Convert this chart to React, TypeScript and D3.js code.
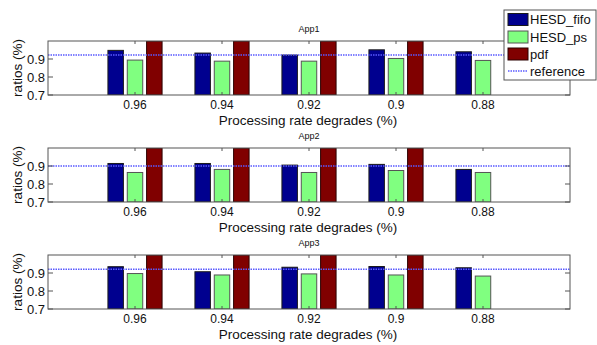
import React from "react";
import * as d3 from "d3";

const categories = ["0.96", "0.94", "0.92", "0.9", "0.88"];
const seriesNames = ["HESD_fifo", "HESD_ps", "pdf"];
const titles = ["App1", "App2", "App3"];
const app1Fifo = [0.948, 0.933, 0.922, 0.951, 0.94];
const app1Ps = [0.894, 0.888, 0.888, 0.903, 0.892];
const app1Pdf = [1.0, 1.0, 1.0, 1.0, null];
const app2Fifo = [0.914, 0.914, 0.905, 0.909, 0.881];
const app2Ps = [0.864, 0.881, 0.864, 0.875, 0.864];
const app2Pdf = [1.0, 1.0, 1.0, 1.0, null];
const app3Fifo = [0.935, 0.907, 0.932, 0.936, 0.929];
const app3Ps = [0.897, 0.889, 0.895, 0.889, 0.883];
const app3Pdf = [1.0, 1.0, 1.0, 1.0, null];
const referenceValues = [0.922, 0.9, 0.921];
const yTicks = [0.7, 0.8, 0.9];

const colors = ["#00008F", "#80FF80", "#800000"];
const edgeColors = ["#1a1a1a", "#555555", "#2a0000"];
const refColor = "#5a5aff";
const axisColor = "#555555";
const font = "'Liberation Sans', Arial, Helvetica, sans-serif";

const data = [
  [app1Fifo, app1Ps, app1Pdf],
  [app2Fifo, app2Ps, app2Pdf],
  [app3Fifo, app3Ps, app3Pdf],
];

const W = 597;
const H = 345;
const left = 48;
const right = 570;
const tops = [41, 148, 255];
const ph = 54;

function Panel({ idx }: { idx: number }) {
  const top = tops[idx];
  const bottom = top + ph;
  const x = d3.scaleLinear().domain([0, 6]).range([left, right]);
  const y = d3.scaleLinear().domain([0.7, 1.0]).range([bottom, top]);
  const groupW = 3 / 4.5;
  const step = groupW / 3;
  const bw = step * 0.8;
  const clipId = `clip${idx}`;
  const series = data[idx];
  return (
    <g>
      <defs>
        <clipPath id={clipId}>
          <rect x={left} y={top} width={right - left} height={ph} />
        </clipPath>
      </defs>
      <rect x={left} y={top} width={right - left} height={ph} fill="#fff" />
      <g clipPath={`url(#${clipId})`}>
        {series.map((vals, s) =>
          vals.map((v, i) => {
            if (v === null) return null;
            const cx = i + 1 + (s - 1) * step;
            const x0 = x(cx - bw / 2);
            const x1 = x(cx + bw / 2);
            const yv = y(Math.min(v, 1.02));
            return (
              <rect
                key={`${s}-${i}`}
                x={x0}
                y={yv}
                width={x1 - x0}
                height={y(0.7) - yv}
                fill={colors[s]}
                stroke={edgeColors[s]}
                strokeWidth={1}
              />
            );
          })
        )}
        <line
          x1={left}
          x2={right}
          y1={y(referenceValues[idx])}
          y2={y(referenceValues[idx])}
          stroke={refColor}
          strokeWidth={1.5}
          strokeDasharray="1.5 1"
        />
      </g>
      <rect x={left} y={top} width={right - left} height={ph} fill="none" stroke={axisColor} strokeWidth={1} />
      {categories.map((c, i) => (
        <g key={c}>
          <line x1={x(i + 1)} x2={x(i + 1)} y1={bottom} y2={bottom - 3} stroke={axisColor} />
          <line x1={x(i + 1)} x2={x(i + 1)} y1={top} y2={top + 3} stroke={axisColor} />
          <text x={x(i + 1)} y={bottom + 14} textAnchor="middle" fontSize={12} fontFamily={font} fill="#111">
            {c}
          </text>
        </g>
      ))}
      {yTicks.map((t) => (
        <g key={t}>
          <line x1={left} x2={left + 5} y1={y(t)} y2={y(t)} stroke={axisColor} />
          <line x1={right} x2={right - 5} y1={y(t)} y2={y(t)} stroke={axisColor} />
          <text x={left - 3} y={y(t) + 4.5} textAnchor="end" fontSize={13} fontFamily={font} fill="#111">
            {d3.format(".1f")(t)}
          </text>
        </g>
      ))}
      <text x={(left + right) / 2} y={top - 9} textAnchor="middle" fontSize={9} fontFamily={font} fill="#111">
        {titles[idx]}
      </text>
      <text x={(left + right) / 2 - 1} y={bottom + 30} textAnchor="middle" fontSize={13.5} fontFamily={font} fill="#111">
        Processing rate degrades (%)
      </text>
      <text
        transform={`translate(22,${(top + bottom) / 2}) rotate(-90)`}
        textAnchor="middle"
        fontSize={13.5}
        fontFamily={font}
        fill="#111"
      >
        ratios (%)
      </text>
    </g>
  );
}

function Legend() {
  const lx = 504;
  const ly = 10;
  const rows = [19.5, 37, 54, 71];
  return (
    <g>
      <rect x={lx} y={ly} width={92} height={70} fill="#fff" stroke={axisColor} strokeWidth={1} />
      {seriesNames.map((n, i) => (
        <g key={n}>
          <rect x={508} y={rows[i] - 6} width={20} height={12} fill={colors[i]} stroke={edgeColors[i]} />
          <text x={530} y={rows[i] + 4.5} fontSize={13} fontFamily={font} fill="#111">
            {n}
          </text>
        </g>
      ))}
      <line x1={508} x2={528} y1={rows[3]} y2={rows[3]} stroke={refColor} strokeWidth={1.5} strokeDasharray="1.5 1" />
      <text x={530} y={rows[3] + 4.5} fontSize={13} fontFamily={font} fill="#111">
        reference
      </text>
    </g>
  );
}

export default function App() {
  return (
    <svg
      width={W}
      height={H}
      style={{ position: "absolute", left: 0, top: 0, background: "#fff" }}
    >
      <rect width={W} height={H} fill="#fff" />
      {[0, 1, 2].map((i) => (
        <Panel key={i} idx={i} />
      ))}
      <Legend />
    </svg>
  );
}
